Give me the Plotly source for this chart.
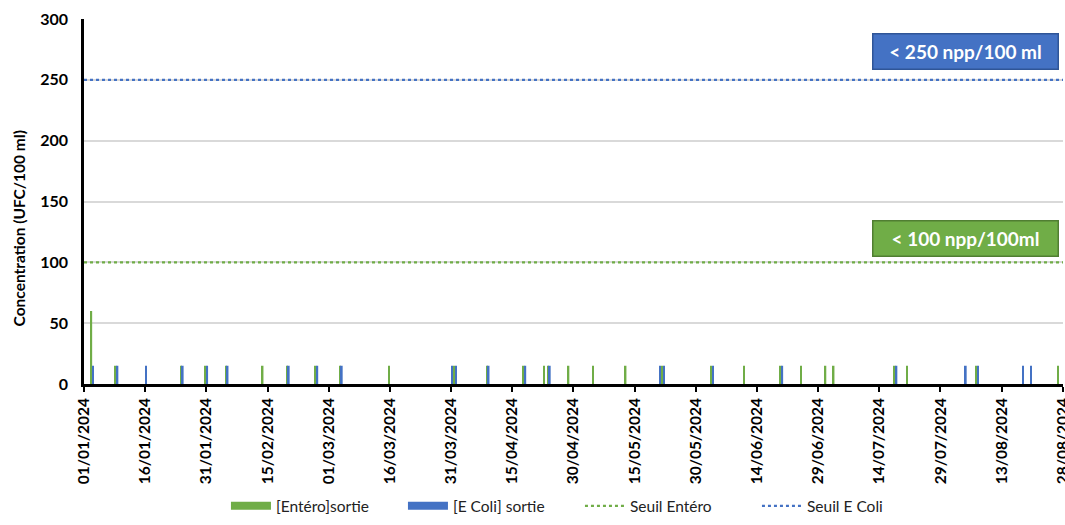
import plotly.graph_objects as go

# Sampling dates
dates = ["2024-01-03", "2024-01-09", "2024-01-16", "2024-01-25", "2024-01-31", "2024-02-05",
         "2024-02-14", "2024-02-20", "2024-02-27", "2024-03-04", "2024-03-16", "2024-03-31",
         "2024-04-01", "2024-04-09", "2024-04-18", "2024-04-23", "2024-04-24", "2024-04-29",
         "2024-05-05", "2024-05-13", "2024-05-21", "2024-05-22", "2024-06-03", "2024-06-11",
         "2024-06-20", "2024-06-25", "2024-07-01", "2024-07-03", "2024-07-18", "2024-07-21",
         "2024-08-04", "2024-08-07", "2024-08-18", "2024-08-20", "2024-08-27"]

entero = [60, 15, None, 15, 15, 15,
          15, 15, 15, 15, 15, None,
          15, 15, 15, 15, 15, 15,
          15, 15, None, 15, 15, 15,
          15, 15, 15, 15, 15, 15,
          None, 15, None, None, 15]

ecoli = [15, 15, 15, 15, 15, 15,
         None, 15, 15, 15, None, 15,
         15, 15, 15, None, 15, None,
         None, None, 15, 15, 15, None,
         15, None, None, None, 15, None,
         15, 15, 15, 15, None]

x_range = ["2024-01-01", "2024-08-28 01:00"]
x_line = ["2024-01-01", "2024-08-28 01:00"]
seuil_entero = 100
seuil_ecoli = 250
y_ticks = [0, 50, 100, 150, 200, 250, 300]

GREEN = "#70AD47"
BLUE = "#4472C4"
DAY = 86400000
FONT = "Lato"

fig = go.Figure()
fig.add_trace(go.Bar(x=dates, y=entero, name="[Entéro]sortie", marker_color=GREEN,
                     marker_line_width=0, width=0.42 * DAY, offset=-0.42 * DAY,
                     showlegend=False))
fig.add_trace(go.Bar(x=dates, y=ecoli, name="[E Coli] sortie", marker_color=BLUE,
                     marker_line_width=0, width=0.42 * DAY, offset=0,
                     showlegend=False))
# legend proxies (wide rectangles like the original)
fig.add_trace(go.Scatter(x=[None], y=[None], mode="lines", name="[Entéro]sortie",
                         line=dict(color=GREEN, width=8)))
fig.add_trace(go.Scatter(x=[None], y=[None], mode="lines", name="[E Coli] sortie",
                         line=dict(color=BLUE, width=8)))
fig.add_trace(go.Scatter(x=x_line, y=[seuil_entero] * 2, mode="lines", name="Seuil Entéro",
                         line=dict(color=GREEN, width=2.2, dash="dot")))
fig.add_trace(go.Scatter(x=x_line, y=[seuil_ecoli] * 2, mode="lines", name="Seuil E Coli",
                         line=dict(color=BLUE, width=2.2, dash="dot")))

fig.add_annotation(text="<b>< 250 npp/100 ml</b>", xref="paper", yref="y", x=0.9, y=273,
                   xanchor="center", yanchor="middle",
                   showarrow=False, font=dict(family=FONT, size=19, color="white"),
                   bgcolor=BLUE, bordercolor="#2F5597", borderwidth=1.5,
                   width=182, height=32, align="center")
fig.add_annotation(text="<b>< 100 npp/100ml</b>", xref="paper", yref="y", x=0.9, y=119.3,
                   xanchor="center", yanchor="middle",
                   showarrow=False, font=dict(family=FONT, size=19, color="white"),
                   bgcolor=GREEN, bordercolor="#507E32", borderwidth=1.5,
                   width=182, height=32, align="center")
# y-axis title (placed as in the original, slightly below centre)
fig.add_annotation(text="<b>Concentration (UFC/100 ml)</b>", xref="paper", yref="paper",
                   x=-0.0665, y=0.426, xanchor="center", yanchor="middle", textangle=-90,
                   showarrow=False, font=dict(family=FONT, size=15.5, color="black"))

fig.update_layout(
    width=1065, height=525,
    margin=dict(l=84, r=2, t=19, b=133),
    plot_bgcolor="white", paper_bgcolor="white",
    barmode="overlay",
    font=dict(family=FONT, color="#000000"),
    showlegend=True,
    legend=dict(orientation="h", x=0.145, xanchor="left", y=-0.335, yanchor="middle",
                font=dict(family=FONT, size=15.5, color="#222222"),
                entrywidth=122, itemwidth=40, traceorder="normal"),
    xaxis=dict(type="date", range=x_range, tick0="2024-01-01", dtick=15 * DAY,
               tickformat="%d/%m/%Y", tickangle=-90, showgrid=False,
               showline=True, linecolor="black", linewidth=2.5,
               ticks="outside", ticklen=5, tickwidth=2, tickcolor="black",
               ticklabeloverflow="allow", automargin=False,
               tickfont=dict(family=FONT, size=15.5, color="black", weight="bold")),
    yaxis=dict(range=[0, 300], tickvals=y_ticks, showgrid=True, gridcolor="#D9D9D9",
               gridwidth=1.5, showline=True, linecolor="black", linewidth=2.5,
               zeroline=False, ticks="", ticklabelstandoff=10, automargin=False,
               tickfont=dict(family=FONT, size=16, color="black", weight="bold")),
)

fig.write_html("out.html")
